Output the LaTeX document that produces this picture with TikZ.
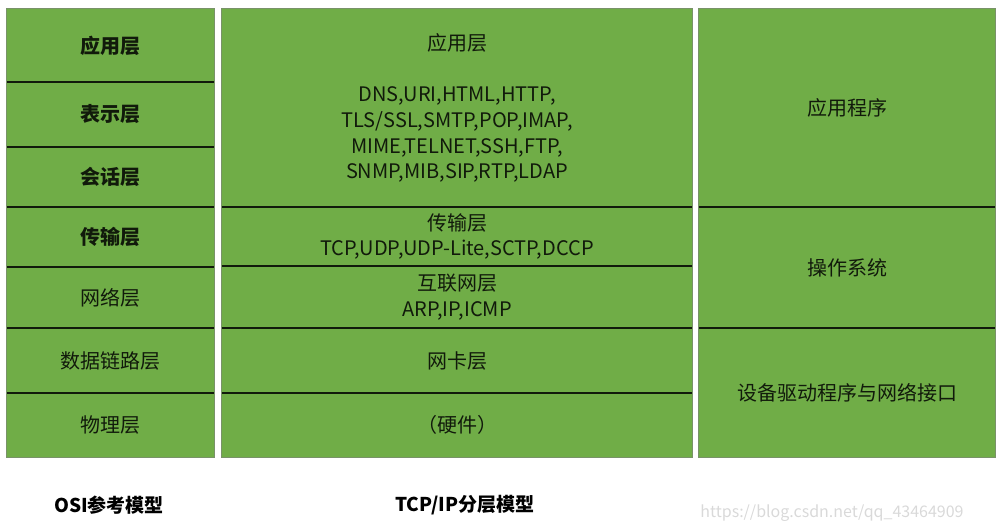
\documentclass[tikz,border=0pt]{standalone}
\usepackage{fontspec}
\setmainfont{Noto Sans CJK SC}
\usepackage{xcolor}
\usetikzlibrary{positioning}
\definecolor{layergreen}{HTML}{70AD47}

\begin{document}
\begin{tikzpicture}[x=1pt, y=-1pt,
  cell/.style={fill=layergreen, inner sep=0pt, align=center,
    font=\fontsize{20}{25.7}\selectfont, text=black!85!layergreen},
  frame/.style={draw=gray!60!layergreen, line width=1pt},
  sep/.style={draw=black!85!layergreen, line width=1.5pt},
  title/.style={font=\fontsize{19}{23}\selectfont\bfseries},
  wmark/.style={font=\fontsize{16}{19}\selectfont, text=gray!30}
]
  \useasboundingbox (0,0) rectangle (1003,525);

  % OSI reference model
  \node[cell, minimum width=207pt, minimum height=73pt] (osi7) at (110.5, 45.5)  {\bfseries 应用层};
  \node[cell, minimum width=207pt, minimum height=65pt] (osi6) at (110.5, 114.5) {\bfseries 表示层};
  \node[cell, minimum width=207pt, minimum height=60pt] (osi5) at (110.5, 177)   {\bfseries 会话层};
  \node[cell, minimum width=207pt, minimum height=60pt] (osi4) at (110.5, 237)   {\bfseries 传输层};
  \node[cell, minimum width=207pt, minimum height=61pt] (osi3) at (110.5, 297.5) {网络层};
  \node[cell, minimum width=207pt, minimum height=65pt] (osi2) at (110.5, 360.5) {数据链路层};
  \node[cell, minimum width=207pt, minimum height=64pt] (osi1) at (110.5, 425)   {物理层};

  % TCP/IP layers
  \node[cell, minimum width=470pt, minimum height=198pt] (tcp4) at (457, 108)
    {应用层\\[25.7pt]DNS,URI,HTML,HTTP,\\TLS/SSL,SMTP,POP,IMAP,\\MIME,TELNET,SSH,FTP,\\SNMP,MIB,SIP,RTP,LDAP};
  \node[cell, minimum width=470pt, minimum height=59pt] (tcp3) at (457, 236.5)
    {传输层\\TCP,UDP,UDP-Lite,SCTP,DCCP};
  \node[cell, minimum width=470pt, minimum height=62pt] (tcp2) at (457, 297)
    {互联网层\\ARP,IP,ICMP};
  \node[cell, minimum width=470pt, minimum height=65pt] (tcp1) at (457, 360.5) {网卡层};
  \node[cell, minimum width=470pt, minimum height=64pt] (tcp0) at (457, 425)   {（硬件）};

  % system side
  \node[cell, minimum width=296pt, minimum height=198pt] (sys3) at (847, 108)   {应用程序};
  \node[cell, minimum width=296pt, minimum height=121pt] (sys2) at (847, 267.5) {操作系统};
  \node[cell, minimum width=296pt, minimum height=129pt] (sys1) at (847, 392.5) {设备驱动程序与网络接口};

  % outer frames
  \draw[frame] (osi7.north west) rectangle (osi1.south east);
  \draw[frame] (tcp4.north west) rectangle (tcp0.south east);
  \draw[frame] (sys3.north west) rectangle (sys1.south east);

  % layer borders
  \draw[sep] (osi7.south west) -- (osi7.south east);
  \draw[sep] (osi6.south west) -- (osi6.south east);
  \draw[sep] (osi5.south west) -- (osi5.south east);
  \draw[sep] (osi4.south west) -- (osi4.south east);
  \draw[sep] (osi3.south west) -- (osi3.south east);
  \draw[sep] (osi2.south west) -- (osi2.south east);
  \draw[sep] (tcp4.south west) -- (tcp4.south east);
  \draw[sep] (tcp3.south west) -- (tcp3.south east);
  \draw[sep] (tcp2.south west) -- (tcp2.south east);
  \draw[sep] (tcp1.south west) -- (tcp1.south east);
  \draw[sep] (sys3.south west) -- (sys3.south east);
  \draw[sep] (sys2.south west) -- (sys2.south east);

  % captions
  \node[title] (osicap) at (109, 505) {OSI参考模型};
  \node[title] (tcpcap) at (465, 505) {TCP/IP分层模型};
  \node[wmark] (url) at (832, 513) {https://blog.csdn.net/qq\_43464909};
\end{tikzpicture}
\end{document}
